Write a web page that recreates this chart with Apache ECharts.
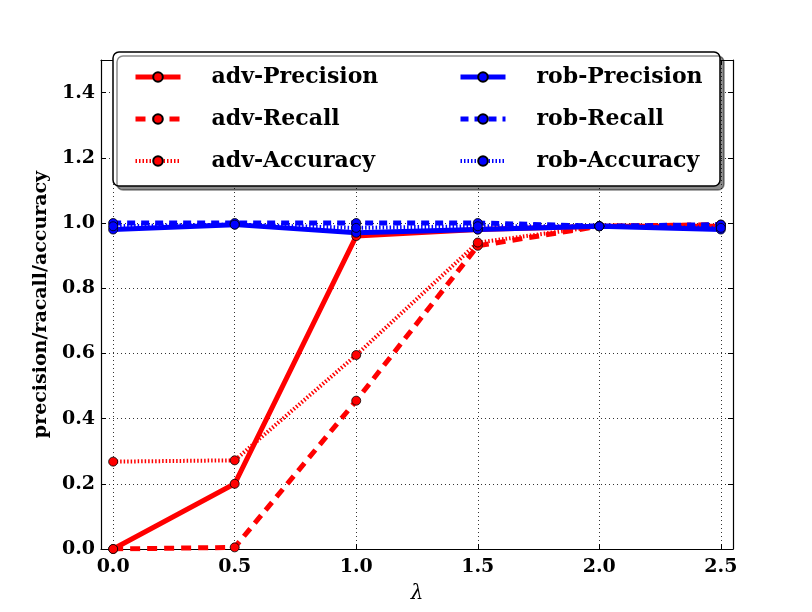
<!DOCTYPE html>
<html>
<head>
<meta charset="utf-8">
<script src="https://cdn.jsdelivr.net/npm/echarts@6/dist/echarts.min.js"></script>
<style>
html, body {margin: 0; padding: 0; background: #fff;}
#chart {width: 812px; height: 612px;}
</style>
</head>
<body>
<div id="chart"></div>
<script>
// lambda values on the x axis
const lambdas = [0.0, 0.5, 1.0, 1.5, 2.0, 2.5];
const xTicks = [0, 0.5, 1.0, 1.5, 2.0, 2.5];
const yTicks = [0, 0.2, 0.4, 0.6, 0.8, 1.0, 1.2, 1.4];

const advPrecision = [0.0, 0.20, 0.96, 0.98, 0.99, 0.99];
const advRecall = [0.0, 0.005, 0.455, 0.93, 0.99, 0.995];
const advAccuracy = [0.268, 0.272, 0.595, 0.94, 0.99, 0.99];
const robPrecision = [0.98, 0.995, 0.97, 0.98, 0.99, 0.98];
const robRecall = [1.0, 1.0, 1.0, 1.0, 0.99, 0.995];
const robAccuracy = [0.99, 0.995, 0.985, 0.99, 0.99, 0.985];

const RED = '#ff0000', BLUE = '#0000ff';
const font = 'DejaVu Serif';

function pairs(vals) {
	return lambdas.map((x, i) => [x, vals[i]]);
}

function mkSeries(name, vals, color, type, width) {
	return {
		name: name,
		type: 'line',
		data: pairs(vals),
		symbol: 'circle',
		symbolSize: 9,
		showAllSymbol: true,
		lineStyle: {color: color, width: width, type: type},
		itemStyle: {color: color, borderColor: '#000', borderWidth: 0.8},
		emphasis: {disabled: true}
	};
}

let chart = echarts.init(document.getElementById('chart'), null, {renderer: 'canvas'});

let legendText = {
	fontFamily: font,
	fontWeight: 'bold',
	fontSize: 22,
	color: '#000',
	lineHeight: 22,
	padding: [0, 0, 0, 26]
};

function mkLegend(left, names) {
	return {
		z: 60,
		orient: 'vertical',
		left: left,
		top: 61,
		itemWidth: 45,
		itemHeight: 12,
		itemGap: 20,
		lineStyle: {width: 'inherit'},
		data: names,
		textStyle: legendText
	};
}

let option = {
	animation: false,
	backgroundColor: '#fff',
	grid: {
		left: 101,
		right: 79,
		top: 60,
		bottom: 63
	},
	graphic: [{
		type: 'rect',
		z: 50,
		shape: {x: 113, y: 52, width: 607, height: 134, r: 6},
		style: {
			fill: '#fff',
			stroke: '#000',
			lineWidth: 1.5,
			shadowColor: 'rgba(0,0,0,0.45)',
			shadowOffsetX: 4,
			shadowOffsetY: 4,
			shadowBlur: 0
		}
	}],
	legend: [
		mkLegend(128, ['adv-Precision', 'adv-Recall', 'adv-Accuracy']),
		mkLegend(453, ['rob-Precision', 'rob-Recall', 'rob-Accuracy'])
	],
	xAxis: [
		{
			type: 'value',
			min: -0.05,
			max: 2.55,
			name: 'λ',
			nameLocation: 'middle',
			nameGap: 35,
			nameTextStyle: {fontFamily: font, fontStyle: 'italic', fontSize: 20, color: '#000'},
			axisLine: {show: true, onZero: false, lineStyle: {color: '#000', width: 1.2}},
			axisTick: {show: true, inside: true, length: 5, customValues: xTicks, lineStyle: {color: '#000'}},
			axisLabel: {
				customValues: xTicks,
				margin: 9,
				fontFamily: font, fontWeight: 'bold', fontSize: 19, color: '#000',
				formatter: v => v.toFixed(1)
			},
			splitLine: {show: true, lineStyle: {color: '#000', width: 0.8, type: [1, 3]}}
		},
		{
			type: 'value',
			position: 'top',
			min: -0.05,
			max: 2.55,
			axisLine: {show: true, onZero: false, lineStyle: {color: '#000', width: 1.2}},
			axisTick: {show: true, inside: true, length: 5, customValues: xTicks, lineStyle: {color: '#000'}},
			axisLabel: {show: false},
			splitLine: {show: false}
		}
	],
	yAxis: [
		{
			type: 'value',
			min: 0,
			max: 1.5,
			name: 'precision/racall/accuracy',
			nameLocation: 'middle',
			nameGap: 45,
			nameTextStyle: {fontFamily: font, fontWeight: 'bold', fontSize: 19, color: '#000'},
			axisLine: {show: true, onZero: false, lineStyle: {color: '#000', width: 1.2}},
			axisTick: {show: true, inside: true, length: 5, customValues: yTicks, lineStyle: {color: '#000'}},
			axisLabel: {
				customValues: yTicks,
				margin: 6,
				fontFamily: font, fontWeight: 'bold', fontSize: 19, color: '#000',
				formatter: v => v.toFixed(1)
			},
			splitLine: {show: true, lineStyle: {color: '#000', width: 0.8, type: [1, 3]}}
		},
		{
			type: 'value',
			position: 'right',
			min: 0,
			max: 1.5,
			axisLine: {show: true, onZero: false, lineStyle: {color: '#000', width: 1.2}},
			axisTick: {show: true, inside: true, length: 5, customValues: yTicks, lineStyle: {color: '#000'}},
			axisLabel: {show: false},
			splitLine: {show: false}
		}
	],
	series: [
		mkSeries('adv-Precision', advPrecision, RED, 'solid', 5),
		mkSeries('adv-Recall', advRecall, RED, [10, 7], 5),
		mkSeries('adv-Accuracy', advAccuracy, RED, [1.5, 2], 4),
		mkSeries('rob-Precision', robPrecision, BLUE, 'solid', 5),
		mkSeries('rob-Recall', robRecall, BLUE, [8, 6], 5),
		mkSeries('rob-Accuracy', robAccuracy, BLUE, [1.5, 2], 4)
	]
};

chart.setOption(option);
</script>
</body>
</html>
